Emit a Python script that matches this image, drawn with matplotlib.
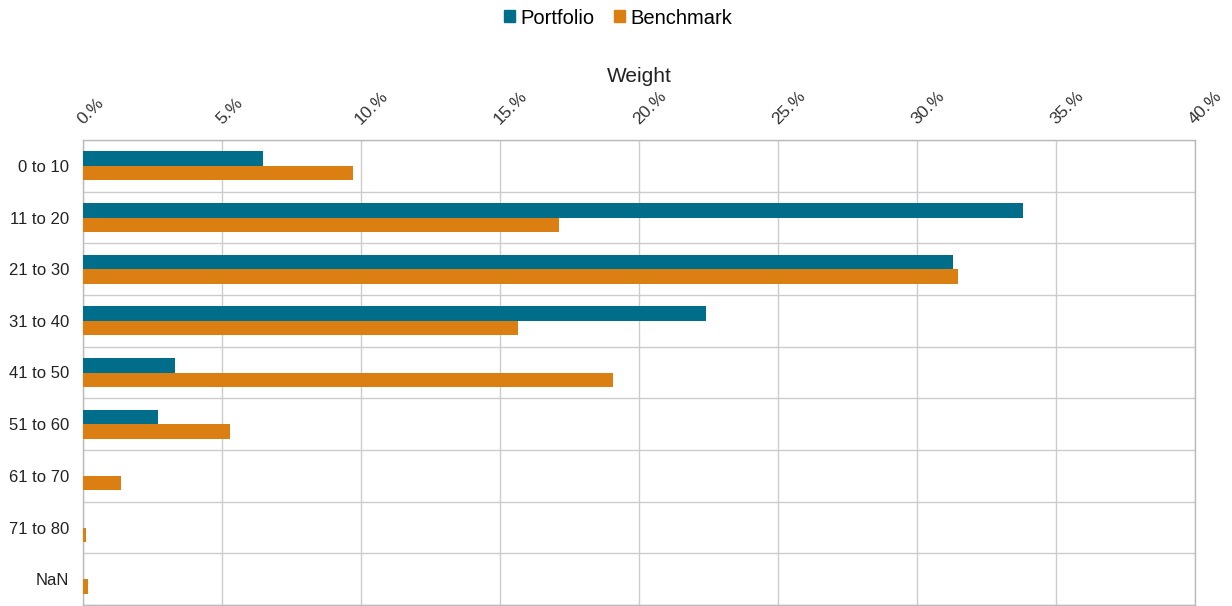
import matplotlib
matplotlib.use("Agg")
import matplotlib.pyplot as plt
import numpy as np
from matplotlib.patches import Patch

categories = ["0 to 10", "11 to 20", "21 to 30", "31 to 40", "41 to 50",
              "51 to 60", "61 to 70", "71 to 80", "NaN"]
portfolio = [6.47, 33.8, 31.28, 22.4, 3.3, 2.7, 0.0, 0.0, 0.0]
benchmark = [9.73, 17.12, 31.46, 15.64, 19.06, 5.29, 1.38, 0.12, 0.17]
xticks = [0, 5, 10, 15, 20, 25, 30, 35, 40]

c_port = "#006E8A"
c_bench = "#DB7F12"

plt.rcParams['font.family'] = ['Liberation Sans', 'DejaVu Sans']

fig = plt.figure(figsize=(12.32, 6.06), dpi=100)
ax = fig.add_axes([83/1232, 1-605/606, (1195-83)/1232, (605-140)/606])

y = np.arange(len(categories))
h = 0.28
ax.barh(y - h/2, portfolio, height=h, color=c_port, zorder=3)
ax.barh(y + h/2, benchmark, height=h, color=c_bench, zorder=3)

ax.set_xlim(0, 40)
ax.set_ylim(len(categories) - 0.5, -0.5)
ax.set_yticks(y)
ax.set_yticklabels(categories, fontsize=12, color="#222222")
ax.set_yticks(np.arange(-0.5, len(categories), 1), minor=True)
ax.grid(axis='y', which='minor', color='#cccccc', linewidth=1, zorder=0)
ax.xaxis.tick_top()
ax.xaxis.set_label_position('top')
ax.set_xticks(xticks)
ax.set_xticklabels([f"{v}.%" for v in xticks], rotation=45, ha='left',
                   va='baseline', rotation_mode='anchor', fontsize=12.5, color="#333333")
ax.grid(axis='x', which='major', color='#cccccc', linewidth=1, zorder=0)
ax.tick_params(axis='both', which='both', length=0)
ax.tick_params(axis='x', pad=11)
ax.tick_params(axis='y', pad=10)
ax.set_xlabel("Weight", fontsize=15, labelpad=4, color="#222222")
for s in ax.spines.values():
    s.set_color('#bbbbbb')
    s.set_linewidth(1)

handles = [Patch(color=c_port, label="Portfolio"), Patch(color=c_bench, label="Benchmark")]
fig.legend(handles=handles, loc='center', bbox_to_anchor=(618/1232, 1-18/606), ncol=2,
           frameon=False, fontsize=14.5, handlelength=0.55, handleheight=0.55,
           handletextpad=0.25, columnspacing=1.0)

fig.savefig("out.png", dpi=100)
